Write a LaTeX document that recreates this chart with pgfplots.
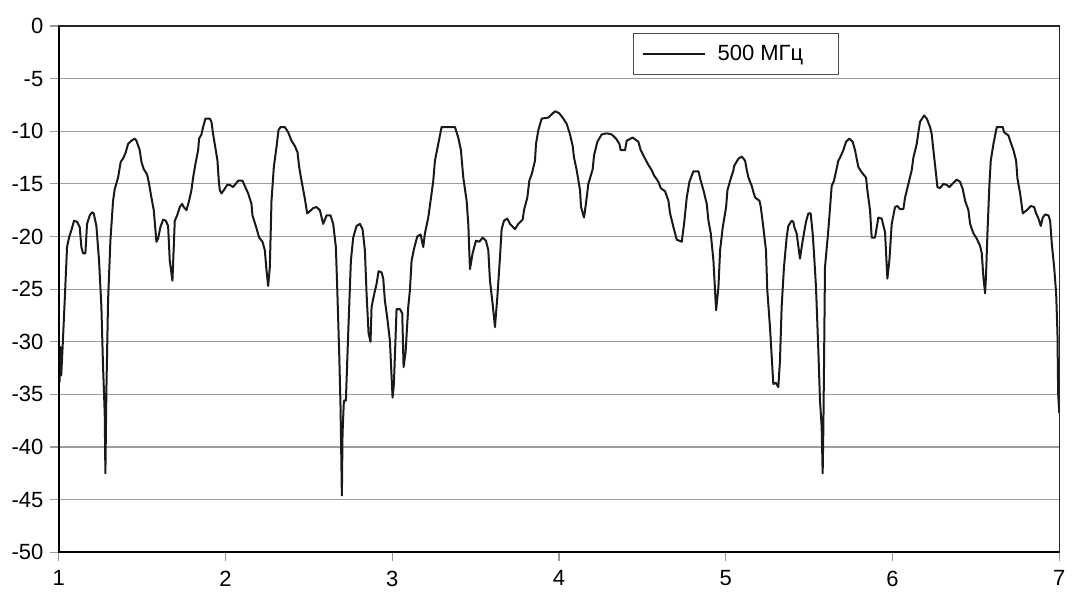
\documentclass[border=0pt]{standalone}
\usepackage{fontspec}
\setmainfont{Liberation Sans}
\usepackage{pgfplots}
\pgfplotsset{compat=1.18}
\begin{document}
\begin{tikzpicture}
\begin{axis}[
 name=ax, at={(0,0)}, anchor=south west,
 scale only axis, width=500.3pt, height=263.15pt,
 xmin=1, xmax=7, ymin=-50, ymax=0,
 xtick={1,2,3,4,5,6,7}, ytick={-50,-45,-40,-35,-30,-25,-20,-15,-10,-5,0},
 ymajorgrids, grid style={black!38, line width=0.6pt},
 tick pos=left, tick align=outside, major tick length=4.5pt,
 every tick/.style={black!40, line width=0.6pt},
 axis line style={black!85, line width=0.7pt},
 tick label style={font=\fontsize{11}{13}\selectfont, /pgf/number format/assume math mode=true},
 yticklabel style={anchor=east, inner sep=0pt, xshift=-3pt},
 xticklabel style={anchor=north, inner sep=0pt, yshift=-4.5pt},
 legend style={at={(0.574,0.987)}, anchor=north west, draw=black!70, line width=0.5pt,
   font=\fontsize{11}{13}\selectfont, inner xsep=4pt, inner ysep=3.8pt},
 legend image code/.code={\draw[#1] (0pt,0pt) -- (31pt,0pt);},
]
\addplot[black!90, line width=1pt, line join=round] coordinates {
(1.000,-29.5) (1.005,-33.8) (1.010,-30.5) (1.015,-33.2) (1.022,-31.0) (1.036,-26.1)
(1.050,-21.0) (1.062,-20.1) (1.076,-19.4) (1.092,-18.5) (1.110,-18.6) (1.126,-19.1)
(1.136,-21.0) (1.146,-21.6) (1.160,-21.6) (1.170,-18.8) (1.186,-18.0) (1.200,-17.7)
(1.210,-17.8) (1.226,-19.0) (1.242,-22.3) (1.256,-26.7) (1.266,-32.4) (1.276,-36.8)
(1.280,-42.5) (1.286,-34.6) (1.296,-26.1) (1.310,-20.4) (1.326,-16.6) (1.336,-15.5)
(1.356,-14.4) (1.372,-12.9) (1.386,-12.6) (1.402,-12.0) (1.416,-11.2) (1.436,-10.9)
(1.456,-10.7) (1.466,-10.9) (1.486,-11.8) (1.496,-12.9) (1.510,-13.6) (1.530,-14.1)
(1.542,-15.0) (1.556,-16.3) (1.570,-17.5) (1.586,-20.5) (1.596,-20.2) (1.610,-19.1)
(1.626,-18.4) (1.642,-18.5) (1.656,-19.0) (1.666,-22.3) (1.682,-24.2) (1.696,-18.5)
(1.710,-18.0) (1.726,-17.2) (1.740,-16.9) (1.750,-17.2) (1.766,-17.5) (1.782,-16.6)
(1.796,-15.6) (1.806,-14.4) (1.820,-13.1) (1.836,-11.8) (1.842,-10.7) (1.856,-10.3)
(1.866,-9.6) (1.880,-8.8) (1.906,-8.8) (1.916,-9.1) (1.926,-10.3) (1.942,-11.8)
(1.952,-12.8) (1.960,-14.7) (1.966,-15.6) (1.976,-15.9) (1.990,-15.6) (2.010,-15.1)
(2.026,-15.1) (2.046,-15.3) (2.076,-14.7) (2.102,-14.7) (2.116,-15.2) (2.136,-15.9)
(2.156,-16.9) (2.162,-18.0) (2.182,-19.0) (2.202,-20.1) (2.222,-20.5) (2.236,-21.3)
(2.246,-23.2) (2.256,-24.7) (2.266,-22.9) (2.276,-16.6) (2.290,-13.4) (2.306,-11.5)
(2.318,-9.9) (2.330,-9.6) (2.356,-9.6) (2.376,-10.1) (2.396,-10.9) (2.416,-11.4)
(2.432,-12.0) (2.442,-13.4) (2.456,-14.7) (2.476,-16.4) (2.490,-17.8) (2.506,-17.6)
(2.526,-17.3) (2.546,-17.2) (2.566,-17.5) (2.586,-18.8) (2.606,-18.0) (2.630,-18.0)
(2.646,-18.8) (2.662,-21.0) (2.670,-24.8) (2.682,-31.1) (2.690,-36.2) (2.698,-44.6)
(2.702,-38.7) (2.710,-35.6) (2.722,-35.6) (2.736,-29.2) (2.752,-22.3) (2.766,-20.1)
(2.786,-19.0) (2.806,-18.8) (2.822,-19.3) (2.836,-21.3) (2.846,-25.4) (2.858,-29.2)
(2.870,-30.0) (2.876,-26.7) (2.890,-25.6) (2.906,-24.5) (2.918,-23.3) (2.936,-23.4)
(2.946,-24.0) (2.956,-26.1) (2.970,-27.7) (2.986,-29.9) (3.002,-35.3) (3.010,-34.0)
(3.026,-26.9) (3.046,-26.9) (3.060,-27.3) (3.068,-32.4) (3.080,-31.0) (3.096,-26.7)
(3.106,-25.1) (3.116,-22.3) (3.130,-21.2) (3.150,-20.0) (3.170,-19.8) (3.186,-21.0)
(3.196,-19.7) (3.216,-18.2) (3.230,-16.6) (3.246,-14.7) (3.256,-12.8) (3.276,-11.2)
(3.296,-9.6) (3.376,-9.6) (3.396,-10.6) (3.412,-11.8) (3.426,-14.4) (3.446,-16.6)
(3.456,-18.8) (3.466,-23.1) (3.482,-21.6) (3.502,-20.4) (3.522,-20.5) (3.542,-20.1)
(3.562,-20.4) (3.576,-21.3) (3.586,-24.2) (3.602,-26.4) (3.616,-28.6) (3.630,-25.8)
(3.646,-22.0) (3.656,-19.3) (3.670,-18.5) (3.690,-18.3) (3.706,-18.8) (3.736,-19.3)
(3.756,-18.8) (3.782,-18.4) (3.790,-17.5) (3.810,-16.3) (3.822,-14.7) (3.836,-14.1)
(3.856,-12.8) (3.862,-11.2) (3.876,-9.9) (3.896,-8.8) (3.936,-8.7) (3.956,-8.4)
(3.976,-8.1) (4.002,-8.3) (4.026,-8.8) (4.046,-9.3) (4.066,-10.3) (4.082,-11.4)
(4.090,-12.5) (4.106,-13.7) (4.126,-15.6) (4.132,-17.2) (4.150,-18.2) (4.162,-16.8)
(4.176,-15.0) (4.202,-13.6) (4.210,-12.3) (4.230,-11.0) (4.256,-10.3) (4.286,-10.2)
(4.316,-10.3) (4.342,-10.7) (4.362,-11.2) (4.370,-11.8) (4.396,-11.8) (4.406,-10.9)
(4.442,-10.6) (4.476,-11.0) (4.490,-11.8) (4.516,-12.6) (4.536,-13.2) (4.556,-13.7)
(4.570,-14.2) (4.596,-14.8) (4.610,-15.4) (4.636,-15.7) (4.656,-16.6) (4.666,-17.8)
(4.686,-19.1) (4.706,-20.3) (4.736,-20.5) (4.750,-18.8) (4.766,-16.3) (4.782,-14.8)
(4.806,-13.8) (4.836,-13.8) (4.850,-14.7) (4.866,-15.6) (4.886,-16.9) (4.896,-18.5)
(4.910,-19.7) (4.926,-22.3) (4.942,-27.0) (4.956,-24.8) (4.966,-21.3) (4.982,-19.1)
(5.002,-17.2) (5.010,-15.6) (5.026,-14.7) (5.046,-13.7) (5.050,-13.3) (5.076,-12.6)
(5.096,-12.4) (5.116,-12.8) (5.126,-13.7) (5.136,-14.4) (5.156,-15.2) (5.166,-15.8)
(5.176,-16.3) (5.202,-16.6) (5.210,-17.2) (5.225,-19.1) (5.241,-21.3) (5.249,-25.1)
(5.265,-28.6) (5.285,-34.0) (5.300,-33.9) (5.315,-34.3) (5.325,-31.8) (5.335,-26.7)
(5.349,-22.9) (5.365,-20.1) (5.375,-19.0) (5.395,-18.5) (5.405,-18.6) (5.411,-19.1)
(5.425,-19.7) (5.445,-22.1) (5.461,-20.4) (5.481,-18.6) (5.495,-17.8) (5.509,-17.8)
(5.521,-19.7) (5.529,-21.6) (5.541,-24.8) (5.555,-30.8) (5.565,-35.6) (5.575,-38.1)
(5.581,-42.5) (5.585,-38.4) (5.589,-32.4) (5.595,-22.9) (5.615,-19.4) (5.635,-15.2)
(5.649,-14.7) (5.675,-12.8) (5.685,-12.5) (5.705,-11.8) (5.721,-11.0) (5.741,-10.7)
(5.761,-11.0) (5.775,-11.8) (5.795,-13.4) (5.815,-13.9) (5.841,-14.4) (5.849,-15.6)
(5.865,-17.5) (5.875,-20.1) (5.895,-20.1) (5.915,-18.2) (5.935,-18.3) (5.955,-19.6)
(5.969,-24.0) (5.981,-22.3) (5.995,-18.8) (6.015,-17.2) (6.029,-17.1) (6.045,-17.4)
(6.065,-17.4) (6.075,-16.3) (6.095,-15.0) (6.115,-13.7) (6.125,-12.5) (6.145,-11.2)
(6.155,-10.1) (6.165,-9.1) (6.189,-8.5) (6.205,-8.8) (6.225,-9.6) (6.235,-10.3)
(6.245,-11.8) (6.261,-14.1) (6.269,-15.3) (6.285,-15.4) (6.305,-15.0) (6.325,-15.1)
(6.341,-15.3) (6.365,-14.9) (6.385,-14.6) (6.405,-14.8) (6.421,-15.5) (6.435,-16.6)
(6.455,-17.5) (6.465,-18.8) (6.485,-19.7) (6.505,-20.2) (6.525,-20.9) (6.535,-21.6)
(6.545,-23.9) (6.555,-25.4) (6.561,-23.5) (6.569,-19.7) (6.581,-15.0) (6.589,-12.8)
(6.605,-11.2) (6.625,-9.6) (6.661,-9.6) (6.669,-10.1) (6.695,-10.4) (6.705,-10.9)
(6.725,-11.8) (6.741,-12.8) (6.749,-14.5) (6.765,-15.9) (6.781,-17.8) (6.805,-17.5)
(6.829,-17.1) (6.849,-17.2) (6.861,-17.8) (6.875,-18.3) (6.889,-19.0) (6.901,-18.2)
(6.915,-17.9) (6.935,-18.0) (6.945,-18.5) (6.955,-20.7) (6.969,-22.9) (6.981,-25.4)
(6.989,-29.2) (6.993,-34.9) (7.000,-36.8)
};
\addlegendentry{\hspace*{4pt}500 МГц\hspace*{11.5pt}}
\end{axis}
\draw[black, line width=1.1pt] (ax.north west) -- (ax.south west) -- (ax.south east);
\pgfresetboundingbox
\path ([shift={(-29.35pt,-22.35pt)}]ax.south west) rectangle ([shift={(10.35pt,13pt)}]ax.north east);
\end{tikzpicture}
\end{document}
